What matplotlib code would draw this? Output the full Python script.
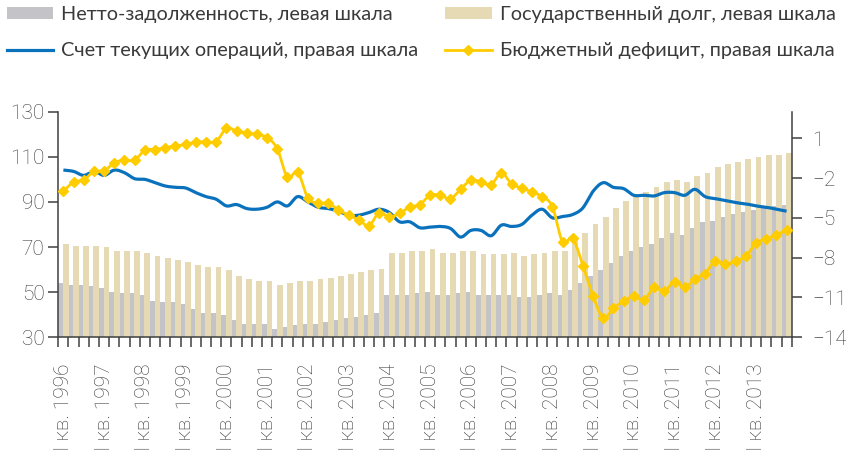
import numpy as np
import matplotlib
matplotlib.use("Agg")
import matplotlib.pyplot as plt
from matplotlib.patches import Patch
from matplotlib.lines import Line2D

# ---------------- data ----------------
years = list(range(1996, 2014))
tick_labels = [f"I кв. {y}" for y in years]

net_debt = [54.1, 53.1, 53.1, 52.6, 51.7, 50.0, 49.7, 49.7, 48.6, 46.0, 45.5, 45.5,
            44.6, 42.4, 40.7, 40.7, 39.8, 37.5, 35.8, 35.8, 35.8, 33.6, 34.4, 35.3,
            35.8, 35.8, 36.7, 37.5, 38.4, 38.9, 39.8, 40.7, 48.6, 48.6, 48.6, 49.5,
            50.0, 48.6, 48.6, 49.5, 50.0, 48.6, 48.6, 48.6, 48.6, 47.8, 47.8, 48.6,
            49.5, 48.6, 50.9, 54.1, 57.1, 59.7, 62.8, 66.0, 68.2, 69.9, 71.3, 73.9,
            76.2, 75.3, 78.4, 81.0, 81.5, 83.3, 84.6, 85.5, 86.4, 87.5, 88.1, 88.6]

gov_debt = [71.3, 70.5, 70.5, 70.5, 70.1, 68.3, 68.3, 68.3, 67.3, 66.1, 65.2, 64.2,
            63.3, 62.1, 61.2, 61.2, 59.7, 57.2, 55.7, 54.9, 54.9, 53.1, 54.1, 54.9,
            54.9, 55.7, 56.2, 57.1, 58.0, 58.9, 59.7, 60.2, 67.3, 67.3, 68.2, 68.2,
            69.1, 67.3, 67.3, 68.2, 68.2, 66.8, 66.8, 66.8, 67.3, 66.0, 66.8, 67.3,
            68.2, 68.2, 73.0, 76.3, 80.2, 83.3, 87.3, 90.4, 92.6, 94.4, 96.6, 98.8,
            99.7, 98.8, 101.5, 102.8, 105.5, 106.8, 107.7, 109.0, 109.9, 110.8, 110.8, 111.7]

current_account = [-1.4, -1.5, -1.8, -1.5, -1.8, -1.4, -1.6, -2.05, -2.1, -2.35, -2.6, -2.7,
                   -2.75, -3.1, -3.4, -3.6, -4.1, -4.0, -4.3, -4.35, -4.2, -3.8, -4.1, -3.4,
                   -3.8, -4.2, -4.3, -4.5, -4.8, -4.8, -4.6, -4.35, -4.6, -5.3, -5.3, -5.75,
                   -5.7, -5.65, -5.8, -6.45, -5.95, -5.95, -6.35, -5.55, -5.65, -5.5, -4.8, -4.35,
                   -5.0, -4.9, -4.75, -4.25, -3.0, -2.35, -2.7, -2.8, -3.3, -3.3, -3.35, -3.1,
                   -3.1, -3.3, -2.85, -3.4, -3.55, -3.7, -3.85, -3.95, -4.1, -4.2, -4.35, -4.5]

budget_deficit = [-3.0, -2.3, -2.15, -1.5, -1.45, -0.85, -0.65, -0.65, 0.1, 0.15, 0.3, 0.4,
                  0.55, 0.7, 0.75, 0.75, 1.75, 1.55, 1.4, 1.3, 1.05, 0.2, -1.95, -1.55,
                  -3.5, -3.9, -3.9, -4.4, -4.8, -5.15, -5.6, -4.6, -4.95, -4.65, -4.2, -4.0,
                  -3.3, -3.3, -3.55, -2.85, -2.15, -2.3, -2.5, -1.6, -2.45, -2.75, -3.05, -3.4,
                  -4.15, -6.8, -6.55, -8.6, -10.9, -12.55, -11.8, -11.3, -10.9, -11.2, -10.25, -10.55,
                  -9.8, -10.25, -9.6, -9.2, -8.25, -8.5, -8.25, -7.9, -6.9, -6.6, -6.3, -5.9]

labels = ["Нетто-задолженность, левая шкала", "Государственный долг, левая шкала",
          "Счет текущих операций, правая шкала", "Бюджетный дефицит, правая шкала"]

# ---------------- style ----------------
GREY = "#C4C4C8"
BEIGE = "#E6DAB5"
BLUE = "#0A72BC"
YELLOW = "#FFCC00"
TXT = "#3a3a3a"
SPINE = "#404040"

tick_font = dict(family=["Roboto", "DejaVu Sans"], weight="light", size=15)
leg_font = dict(family=["Lato", "DejaVu Sans"], size=14.3)


def smooth(x, y, n=16):
    """Catmull-Rom rendering of a line through the data points (like a smoothed line)."""
    x = np.asarray(x, float)
    y = np.asarray(y, float)
    xp = np.concatenate([[2 * x[0] - x[1]], x, [2 * x[-1] - x[-2]]])
    yp = np.concatenate([[2 * y[0] - y[1]], y, [2 * y[-1] - y[-2]]])
    t = np.linspace(0, 1, n, endpoint=False)
    xs, ys = [], []
    for i in range(1, len(xp) - 2):
        for arr, out in ((xp, xs), (yp, ys)):
            p0, p1, p2, p3 = arr[i - 1], arr[i], arr[i + 1], arr[i + 2]
            out.append(0.5 * ((2 * p1) + (-p0 + p2) * t + (2 * p0 - 5 * p1 + 4 * p2 - p3) * t ** 2
                              + (-p0 + 3 * p1 - 3 * p2 + p3) * t ** 3))
    xs = np.concatenate(xs + [[x[-1]]])
    ys = np.concatenate(ys + [[y[-1]]])
    return xs, ys


fig = plt.figure(figsize=(8.46, 4.62), dpi=100)
ax = fig.add_axes([0.0689, 0.2701, 0.8669, 0.4881])
x = np.arange(len(net_debt))

ax.bar(x - 0.23, net_debt, width=0.50, color=GREY, zorder=1, linewidth=0)
ax.bar(x + 0.235, gov_debt, width=0.57, color=BEIGE, zorder=2, linewidth=0)
ax.set_xlim(-0.5, len(x) - 0.5)
ax.set_ylim(30, 130)
ax.set_yticks([30, 50, 70, 90, 110, 130])

ax2 = ax.twinx()
ax2.set_ylim(-14, 3)
ax2.set_yticks([-14, -11, -8, -5, -2, 1])
sx, sy = smooth(x, current_account)
ax2.plot(sx, sy, color=BLUE, lw=2.3, solid_capstyle="butt", zorder=3)
bx, by = smooth(x, budget_deficit)
ax2.plot(bx, by, color=YELLOW, lw=2.0, zorder=4)
ax2.plot(x, budget_deficit, ls="none", marker="D", ms=5.2, color=YELLOW, zorder=5)

# axes cosmetics
for a in (ax, ax2):
    a.spines["top"].set_visible(False)
    for s in a.spines.values():
        s.set_color(SPINE)
        s.set_linewidth(1.1)
ax2.spines["left"].set_visible(False)
ax2.spines["bottom"].set_visible(False)
ax.spines["right"].set_visible(False)

ax.set_xticks(np.arange(0, len(x), 4))
ax.set_xticklabels(tick_labels, rotation=90, fontdict=tick_font, color=TXT)
ax.set_xticks(np.arange(-0.5, len(x), 1), minor=True)
ax.tick_params(axis="x", which="major", length=0, pad=19)
ax.tick_params(axis="x", which="minor", length=7, width=1.1, color=SPINE, direction="out")
ax.tick_params(axis="y", length=7, width=1.1, color=SPINE, direction="out", pad=3)
ax2.tick_params(axis="y", length=7, width=1.1, color=SPINE, direction="out", pad=8)
for lab in ax.get_yticklabels() + ax2.get_yticklabels():
    lab.set_fontfamily(tick_font["family"])
    lab.set_fontweight("light")
    lab.set_fontsize(15)
    lab.set_color(TXT)

# legends
h_grey = Patch(facecolor=GREY, edgecolor="none")
h_beige = Patch(facecolor=BEIGE, edgecolor="none")
h_blue = Line2D([], [], color=BLUE, lw=2.3)
h_yel = Line2D([], [], color=YELLOW, lw=2.0, marker="D", ms=5, markevery=[1])

common = dict(loc="upper left", bbox_transform=fig.transFigure, frameon=False,
              handlelength=2.35, handleheight=0.62, handletextpad=0.4,
              labelspacing=0.98, borderaxespad=0, borderpad=0, prop=leg_font,
              labelcolor=TXT)
fig.legend([h_grey, h_blue], [labels[0], labels[2]], bbox_to_anchor=(0.008, 0.987), **common)
fig.legend([h_beige, h_yel], [labels[1], labels[3]], bbox_to_anchor=(0.526, 0.987), **common)

fig.savefig("out.png", dpi=100)
